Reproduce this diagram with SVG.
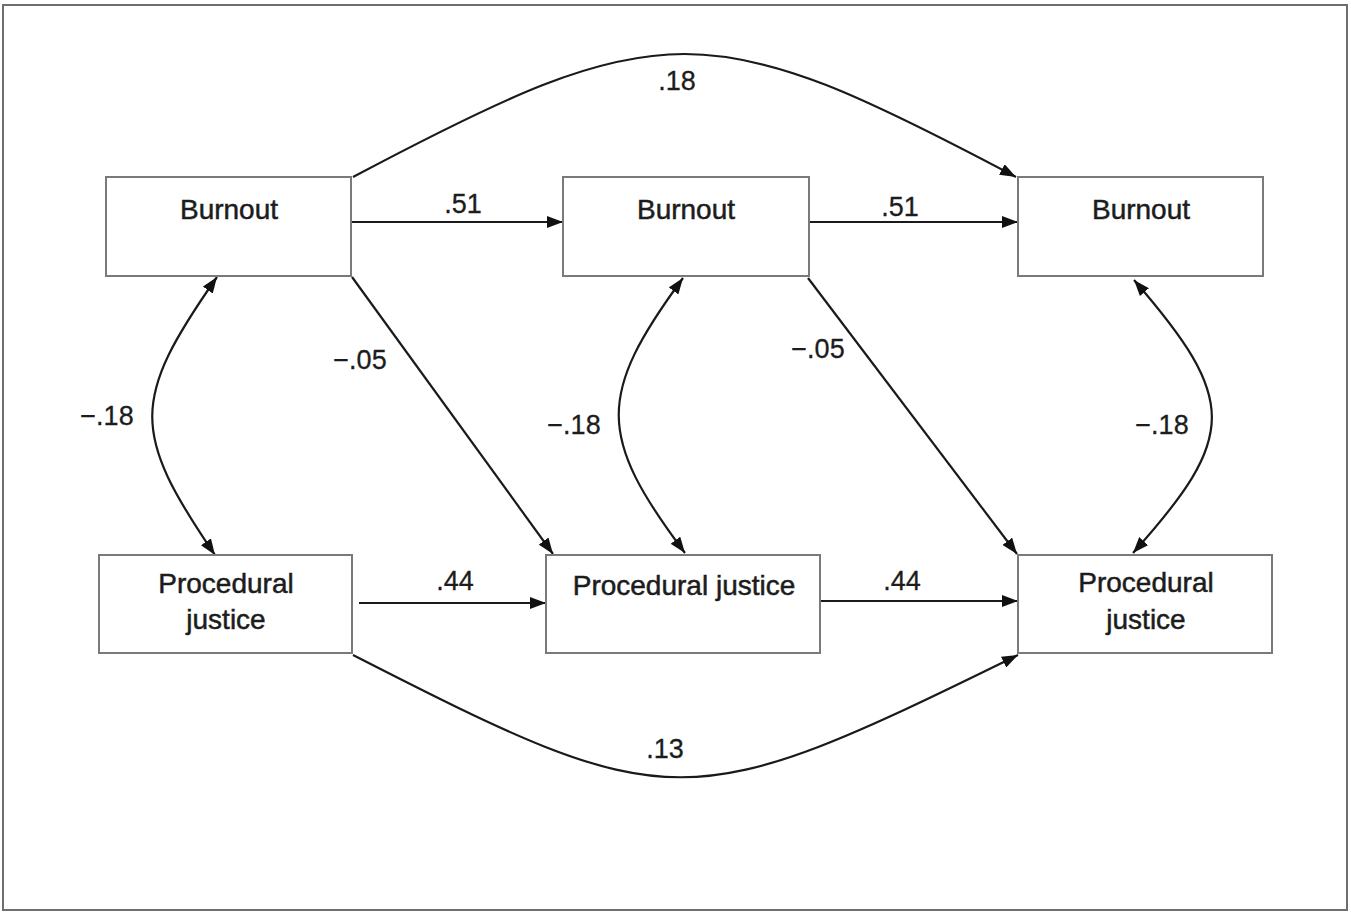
<svg xmlns="http://www.w3.org/2000/svg" width="1351" height="912" viewBox="0 0 1351 912">
<style>
.bg{fill:#fff}
.frame{fill:none;stroke:#6e6e6e;stroke-width:2}
.box{fill:#fff;stroke:#7a7a7a;stroke-width:2}
.t{font-family:"Liberation Sans",Arial,sans-serif;font-size:28px;fill:#1c1c1c;stroke:#1c1c1c;stroke-width:0.5;text-anchor:middle}
.lbl{font-family:"Liberation Sans",Arial,sans-serif;font-size:27px;fill:#1c1c1c;stroke:#1c1c1c;stroke-width:0.3;text-anchor:middle}
.c{fill:none;stroke:#1a1a1a;stroke-width:2.2}
</style>
<defs>
<marker id="ah" viewBox="0 0 16 12" refX="16" refY="6" markerWidth="16" markerHeight="12" markerUnits="userSpaceOnUse" orient="auto-start-reverse">
<path d="M0,0 L16,6 L0,12 z" fill="#111"/>
</marker>
</defs>
<rect class="bg" x="0" y="0" width="1351" height="912"/>
<rect class="frame" x="3" y="5" width="1344" height="905"/>

<g id="connectors">
<path class="c" d="M353,177 C662,13 707,13 1016,177" marker-end="url(#ah)"/>
<path class="c" d="M353,655 C672,818 686,818 1018,655" marker-end="url(#ah)"/>
<line class="c" x1="352" y1="222" x2="563" y2="222" marker-end="url(#ah)"/>
<line class="c" x1="809" y1="222" x2="1018" y2="222" marker-end="url(#ah)"/>
<line class="c" x1="359" y1="603" x2="546" y2="603" marker-end="url(#ah)"/>
<line class="c" x1="820" y1="601" x2="1018" y2="601" marker-end="url(#ah)"/>
<line class="c" x1="352" y1="277" x2="553" y2="554" marker-end="url(#ah)"/>
<line class="c" x1="808" y1="278" x2="1017" y2="554" marker-end="url(#ah)"/>
<path class="c" d="M217,277 C131,400 131,432 215,555" marker-start="url(#ah)" marker-end="url(#ah)"/>
<path class="c" d="M683,278 C597,395 597,436 685,553" marker-start="url(#ah)" marker-end="url(#ah)"/>
<path class="c" d="M1134,280 C1238,400 1238,436 1133,553" marker-start="url(#ah)" marker-end="url(#ah)"/>
<text class="lbl" x="677" y="90">.18</text>
<text class="lbl" x="463" y="213">.51</text>
<text class="lbl" x="900" y="216">.51</text>
<text class="lbl" x="360" y="369">−.05</text>
<text class="lbl" x="818" y="358">−.05</text>
<text class="lbl" x="107" y="425">−.18</text>
<text class="lbl" x="574" y="434">−.18</text>
<text class="lbl" x="1162" y="434">−.18</text>
<text class="lbl" x="455" y="590">.44</text>
<text class="lbl" x="902" y="590">.44</text>
<text class="lbl" x="665" y="758">.13</text>
</g>

<g id="burnout1">
<rect class="box" x="106" y="177" width="245" height="99"/>
<text class="t" x="229" y="219">Burnout</text>
</g>
<g id="burnout2">
<rect class="box" x="563" y="177" width="246" height="99"/>
<text class="t" x="686" y="219">Burnout</text>
</g>
<g id="burnout3">
<rect class="box" x="1018" y="177" width="245" height="99"/>
<text class="t" x="1141" y="219">Burnout</text>
</g>
<g id="pj1">
<rect class="box" x="99" y="555" width="253" height="98"/>
<text class="t" x="226" y="593">Procedural</text>
<text class="t" x="226" y="629">justice</text>
</g>
<g id="pj2">
<rect class="box" x="546" y="555" width="274" height="98"/>
<text class="t" x="684" y="595">Procedural justice</text>
</g>
<g id="pj3">
<rect class="box" x="1018" y="555" width="254" height="98"/>
<text class="t" x="1146" y="592">Procedural</text>
<text class="t" x="1146" y="629">justice</text>
</g>
</svg>
